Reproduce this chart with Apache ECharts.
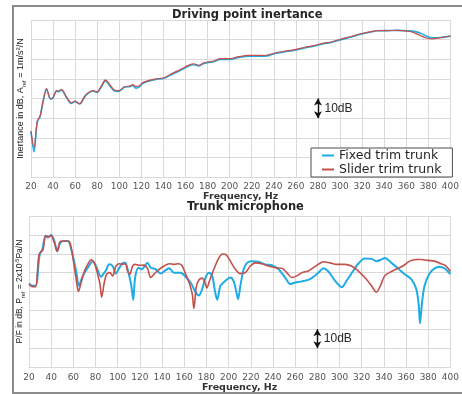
<!DOCTYPE html>
<html>
<head>
<meta charset="utf-8">
<script src="https://cdn.jsdelivr.net/npm/echarts@6/dist/echarts.min.js"></script>
<style>
  html, body { margin: 0; padding: 0; background: #fff; }
  #chart { width: 462px; height: 394px; }
</style>
</head>
<body>
<div id="chart"></div>
<script>
// 频率轴
const freqMin = 20;
const freqMax = 400;
const freqStep = 20;

// Driving point inertance (dB)
const topFreq = [20, 22.7, 25.7, 28.2, 31, 34.1, 37.7, 40, 43.1, 44.9, 47.6, 52.1, 56.6, 59.6, 64.1, 68.6, 71.6, 76.1, 80, 83.6,
  87.5, 91.1, 95.6, 99.5, 104.6, 110, 112.1, 115, 118, 121, 125.5, 133, 140.5, 148, 155.5, 163, 167.5, 172, 176.5, 181,
  185.5, 191.6, 200.6, 208, 217, 223, 232, 241, 250, 259, 268, 277, 286, 292, 301, 310, 319, 328, 334, 343,
  352, 361, 367, 373, 379, 383.5, 391, 400];
const topFixed = [-36.9, -47.1, -31.8, -29.3, -21.5, -15.3, -20.3, -19.6, -16.3, -16.5, -15.6, -19.4, -22.5, -21.6, -22.8, -19.2, -17.4, -16.2, -16.8, -14.3,
  -11.0, -13.3, -16.2, -16.4, -14.3, -13.9, -13.3, -14.7, -14.2, -12.4, -11.3, -10.3, -9.7, -7.6, -5.6, -3.4, -2.8, -3.4, -2.2, -1.7,
  -1.3, -0.1, -0.1, 0.9, 1.6, 1.6, 1.6, 2.9, 3.8, 4.6, 5.8, 6.8, 8.0, 8.5, 10.0, 11.3, 12.8, 13.9, 14.5, 14.6,
  14.7, 14.5, 14.2, 13.3, 11.6, 10.9, 11.1, 11.8];
const topSlider = [-36.5, -45.0, -31.5, -29.0, -21.0, -15.0, -20.0, -19.5, -16.0, -16.3, -15.5, -19.2, -22.3, -21.3, -22.6, -18.8, -17.2, -16.0, -16.6, -13.7,
  -10.5, -12.8, -15.7, -16.0, -14.0, -13.6, -12.9, -13.8, -13.6, -12.0, -11.0, -10.0, -9.4, -7.2, -5.2, -3.0, -2.3, -3.1, -1.8, -1.3,
  -0.9, 0.3, 0.3, 1.3, 2.0, 2.0, 1.9, 3.2, 4.1, 4.9, 6.1, 7.1, 8.3, 8.8, 10.3, 11.6, 13.0, 14.1, 14.6, 14.6,
  14.7, 14.3, 13.6, 12.0, 10.7, 10.4, 11.0, 11.8];

// Trunk microphone (dB)
const micFixedFreq = [20, 23, 26, 29.6, 32, 35, 37, 40, 43, 45.4, 48, 51, 55, 57, 60, 63, 64.9, 68.5, 73, 77.5,
  80.4, 85, 87, 89.4, 92.4, 95.4, 98.4, 100.8, 105, 106.8, 108.9, 112, 114, 115.7, 118.7, 121.7, 123.8, 126.8, 129.8, 134.3,
  138.8, 143.3, 146.3, 150.8, 156.7, 161.2, 165.7, 170.2, 173.2, 176.2, 179.2, 182.2, 185.2, 187.6, 189.7, 192.7, 197.1, 201.6, 204.6, 206.7,
  208.5, 210.6, 213.6, 216.6, 221, 227, 233, 239, 245, 251, 255.5, 260, 266, 273.4, 281, 285.4, 290, 296, 302, 306.4,
  312.3, 316.8, 322.8, 328.8, 333.3, 337.8, 340.8, 346.8, 352.7, 358.7, 364.7, 369.2, 371.3, 372.6, 374.3, 376.7, 381.2, 385.7, 390.2, 394.7, 400];
const micFixed = [64.3, 63.1, 63.1, 79.6, 82.2, 89.6, 88.6, 90, 86.5, 81.3, 85.6, 86.8, 86.8, 84.8, 77.8, 69.2, 63.1, 68.3, 72.6, 76.1,
  73.5, 67.8, 69.2, 71.3, 74.4, 73.5, 69.5, 71.8, 75.2, 75.2, 71.8, 64, 55.7, 67.4, 72.6, 71.8, 73, 75.2, 72.6, 71.8,
  69.5, 71.3, 72.3, 70, 70, 67.8, 64.8, 59.7, 57.9, 61.4, 67.4, 70, 68.3, 60.5, 55.7, 63.1, 65.7, 67.4, 65.4, 60.5,
  56, 63.1, 71.8, 75.2, 76.1, 75.8, 74.4, 74, 71.8, 67.4, 64, 64.8, 65.4, 66.6, 70, 72.3, 70.6, 65.7, 62.3, 65.7,
  70.9, 74.7, 77.5, 77.3, 76.1, 77, 77.8, 75.2, 72.3, 69.2, 66.6, 61.4, 53.6, 43.2, 53.6, 63.1, 69.5, 72.3, 73, 72.3, 69.2];
const micSliderFreq = [20, 23, 26, 29, 32.6, 35, 38, 40, 43, 45.4, 48.1, 51.1, 55, 57.1, 60.1, 62.5, 64.6, 67, 70, 73,
  76, 78.9, 81.9, 84, 85.5, 87.9, 90, 93, 95.4, 98.4, 101.4, 104.4, 106.8, 108.9, 111, 113.4, 115.8, 119.3, 123.8, 126.8,
  129.8, 132.8, 137.3, 141.8, 146.3, 150.8, 155.2, 158.2, 161.2, 164.8, 167.2, 168.7, 170.8, 173.2, 176.2, 178.6, 180.4, 182.8, 186.7, 191.2,
  194.7, 197.7, 201.6, 206.1, 210.6, 215.1, 219.6, 224.1, 230.1, 236, 242, 248, 252.5, 257, 261.5, 266, 271.9, 276.4, 280.9, 285.4,
  291.4, 297.4, 304.9, 310.8, 316.8, 322.8, 328.8, 333.3, 336.3, 340.8, 346.8, 352.7, 357.2, 363.2, 369.2, 373.7, 379.7, 385.7, 391.6, 396.1, 400];
const micSlider = [64.0, 62.6, 62.6, 79.6, 82.2, 89.6, 89.1, 89.6, 85.6, 81.3, 86.5, 86.8, 86.8, 85.6, 76.1, 66.6, 60.0, 64.8, 70.9, 74.4,
  76.8, 75.2, 69.2, 64.0, 57.1, 64.8, 69.2, 70.0, 68.3, 73.5, 74.7, 74.4, 74.7, 70.9, 69.2, 73.5, 74.4, 73.9, 74.0, 72.3,
  67.4, 69.2, 71.8, 73.5, 74.7, 74.4, 74.7, 73.5, 69.2, 64.0, 58.8, 51.0, 62.3, 66.1, 67.1, 64.8, 61.9, 65.7, 71.8, 77.8,
  79.9, 79.6, 76.1, 71.8, 69.5, 70.0, 73.5, 75.2, 74.7, 73.5, 72.6, 72.3, 70.0, 67.4, 68.3, 70.0, 70.9, 72.6, 74.4, 75.8,
  75.2, 74.4, 74.4, 73.5, 70.9, 67.4, 63.1, 59.7, 62.3, 68.3, 70.6, 72.3, 73.5, 76.1, 77.0, 77.0, 76.5, 76.1, 74.7, 73.5, 70.6];

// 10dB 标尺
const scaleFreq = 280;
const topScale = [-30, -20];
const micScale = [30, 40];

const blue = '#1fabe6';
const red = '#c4504c';
const gridColor = '#d9d9d9';

const toPairs = (xs, ys) => xs.map((x, i) => [x, ys[i]]);

const chart = echarts.init(document.getElementById('chart'));

const xAxisBase = (gridIndex, labelMargin, nameGap) => ({
  type: 'value',
  gridIndex,
  min: freqMin,
  max: freqMax,
  interval: freqStep,
  name: 'Frequency, Hz',
  nameLocation: 'middle',
  nameGap,
  nameTextStyle: { fontFamily: 'DejaVu Sans', fontWeight: 'bold', fontSize: 9.5, color: '#333' },
  axisLine: { show: true, lineStyle: { color: gridColor } },
  axisTick: { show: false },
  axisLabel: { fontFamily: 'DejaVu Sans', fontSize: 9, color: '#555', margin: labelMargin },
  splitLine: { show: true, lineStyle: { color: gridColor, width: 1 } },
});

// y 轴名称（带上下标）
const yName = (size) => {
  const font = 'Liberation Sans';
  return {
    fontFamily: font, fontSize: size, color: '#1a1a1a', lineHeight: 12,
    rich: {
      sub: { fontFamily: font, fontSize: size * 0.65, color: '#1a1a1a', verticalAlign: 'bottom', lineHeight: 12 },
      sup: { fontFamily: font, fontSize: size * 0.65, color: '#1a1a1a', verticalAlign: 'top', lineHeight: 12 },
    },
  };
};

const yAxisBase = (gridIndex, min, max, name, nameSize, nameGap) => ({
  type: 'value',
  gridIndex,
  min,
  max,
  interval: 10,
  name,
  nameLocation: 'middle',
  nameRotate: 90,
  nameGap,
  nameTextStyle: yName(nameSize),
  axisLine: { show: false },
  axisTick: { show: false },
  axisLabel: { show: false },
  splitLine: { show: true, lineStyle: { color: gridColor, width: 1 } },
});

const scaleMarks = (freq, range) => ({
  markLine: {
    silent: true,
    animation: false,
    symbol: ['arrow', 'arrow'],
    symbolSize: [6, 7],
    label: { show: false },
    lineStyle: { color: '#111', width: 1.4, type: 'solid' },
    data: [[{ coord: [freq, range[0]] }, { coord: [freq, range[1]] }]],
  },
  markPoint: {
    silent: true,
    animation: false,
    symbol: 'circle',
    symbolSize: 1,
    itemStyle: { color: 'rgba(0,0,0,0)' },
    label: { show: true, position: 'right', distance: 6, formatter: '10dB', fontFamily: 'Liberation Sans', fontSize: 12, color: '#262626' },
    data: [{ coord: [freq, (range[0] + range[1]) / 2] }],
  },
});

const option = {
  animation: false,
  backgroundColor: '#fff',
  title: [
    { text: 'Driving point inertance', left: 172, top: 9, padding: 0,
      textStyle: { fontFamily: 'DejaVu Sans', fontWeight: 'bold', fontSize: 11.5, color: '#262626' } },
    { text: 'Trunk microphone', left: 187, top: 201, padding: 0,
      textStyle: { fontFamily: 'DejaVu Sans', fontWeight: 'bold', fontSize: 11.5, color: '#262626' } },
  ],
  legend: {
    data: ['Fixed trim trunk', 'Slider trim trunk'],
    orient: 'vertical',
    left: 311,
    top: 148,
    padding: [1, 11, 1, 11],
    itemGap: 1,
    itemWidth: 12,
    itemHeight: 2,
    icon: 'rect',
    backgroundColor: '#fff',
    borderColor: '#4d4d4d',
    borderWidth: 1,
    borderRadius: 0,
    textStyle: { fontFamily: 'DejaVu Sans', fontSize: 12.5, color: '#262626', lineHeight: 13 },
  },
  grid: [
    { left: 31, right: 9, top: 20, height: 157 },
    { left: 29, right: 9, top: 216, height: 154 },
  ],
  xAxis: [xAxisBase(0, 5, 12), xAxisBase(1, 6, 13)],
  yAxis: [
    yAxisBase(0, -60, 20, 'Inertance in dB, A{sub|ref} = 1m/s{sup|2}/N', 9, 4),
    yAxisBase(1, 20, 100, 'P/F in dB, P{sub|ref} = 2x10{sup|-5}Pa/N', 8.5, 3),
  ],
  graphic: [
    { type: 'rect', silent: true, z: 100, shape: { x: 13, y: 6, width: 470, height: 387 },
      style: { fill: 'none', stroke: '#8c8c8c', lineWidth: 2 } },
  ],
  series: [
    { name: 'Fixed trim trunk', type: 'line', xAxisIndex: 0, yAxisIndex: 0, data: toPairs(topFreq, topFixed),
      showSymbol: false, smooth: 0.3, lineStyle: { color: blue, width: 1.6 }, itemStyle: { color: blue } },
    { name: 'Slider trim trunk', type: 'line', xAxisIndex: 0, yAxisIndex: 0, data: toPairs(topFreq, topSlider),
      showSymbol: false, smooth: 0.3, lineStyle: { color: red, width: 1.2 }, itemStyle: { color: red },
      ...scaleMarks(scaleFreq, topScale) },
    { name: 'Fixed trim trunk', type: 'line', xAxisIndex: 1, yAxisIndex: 1, data: toPairs(micFixedFreq, micFixed),
      showSymbol: false, smooth: 0.3, lineStyle: { color: blue, width: 2 }, itemStyle: { color: blue } },
    { name: 'Slider trim trunk', type: 'line', xAxisIndex: 1, yAxisIndex: 1, data: toPairs(micSliderFreq, micSlider),
      showSymbol: false, smooth: 0.3, lineStyle: { color: red, width: 1.6 }, itemStyle: { color: red },
      ...scaleMarks(scaleFreq, micScale) },
  ],
};

chart.setOption(option);
</script>
</body>
</html>
